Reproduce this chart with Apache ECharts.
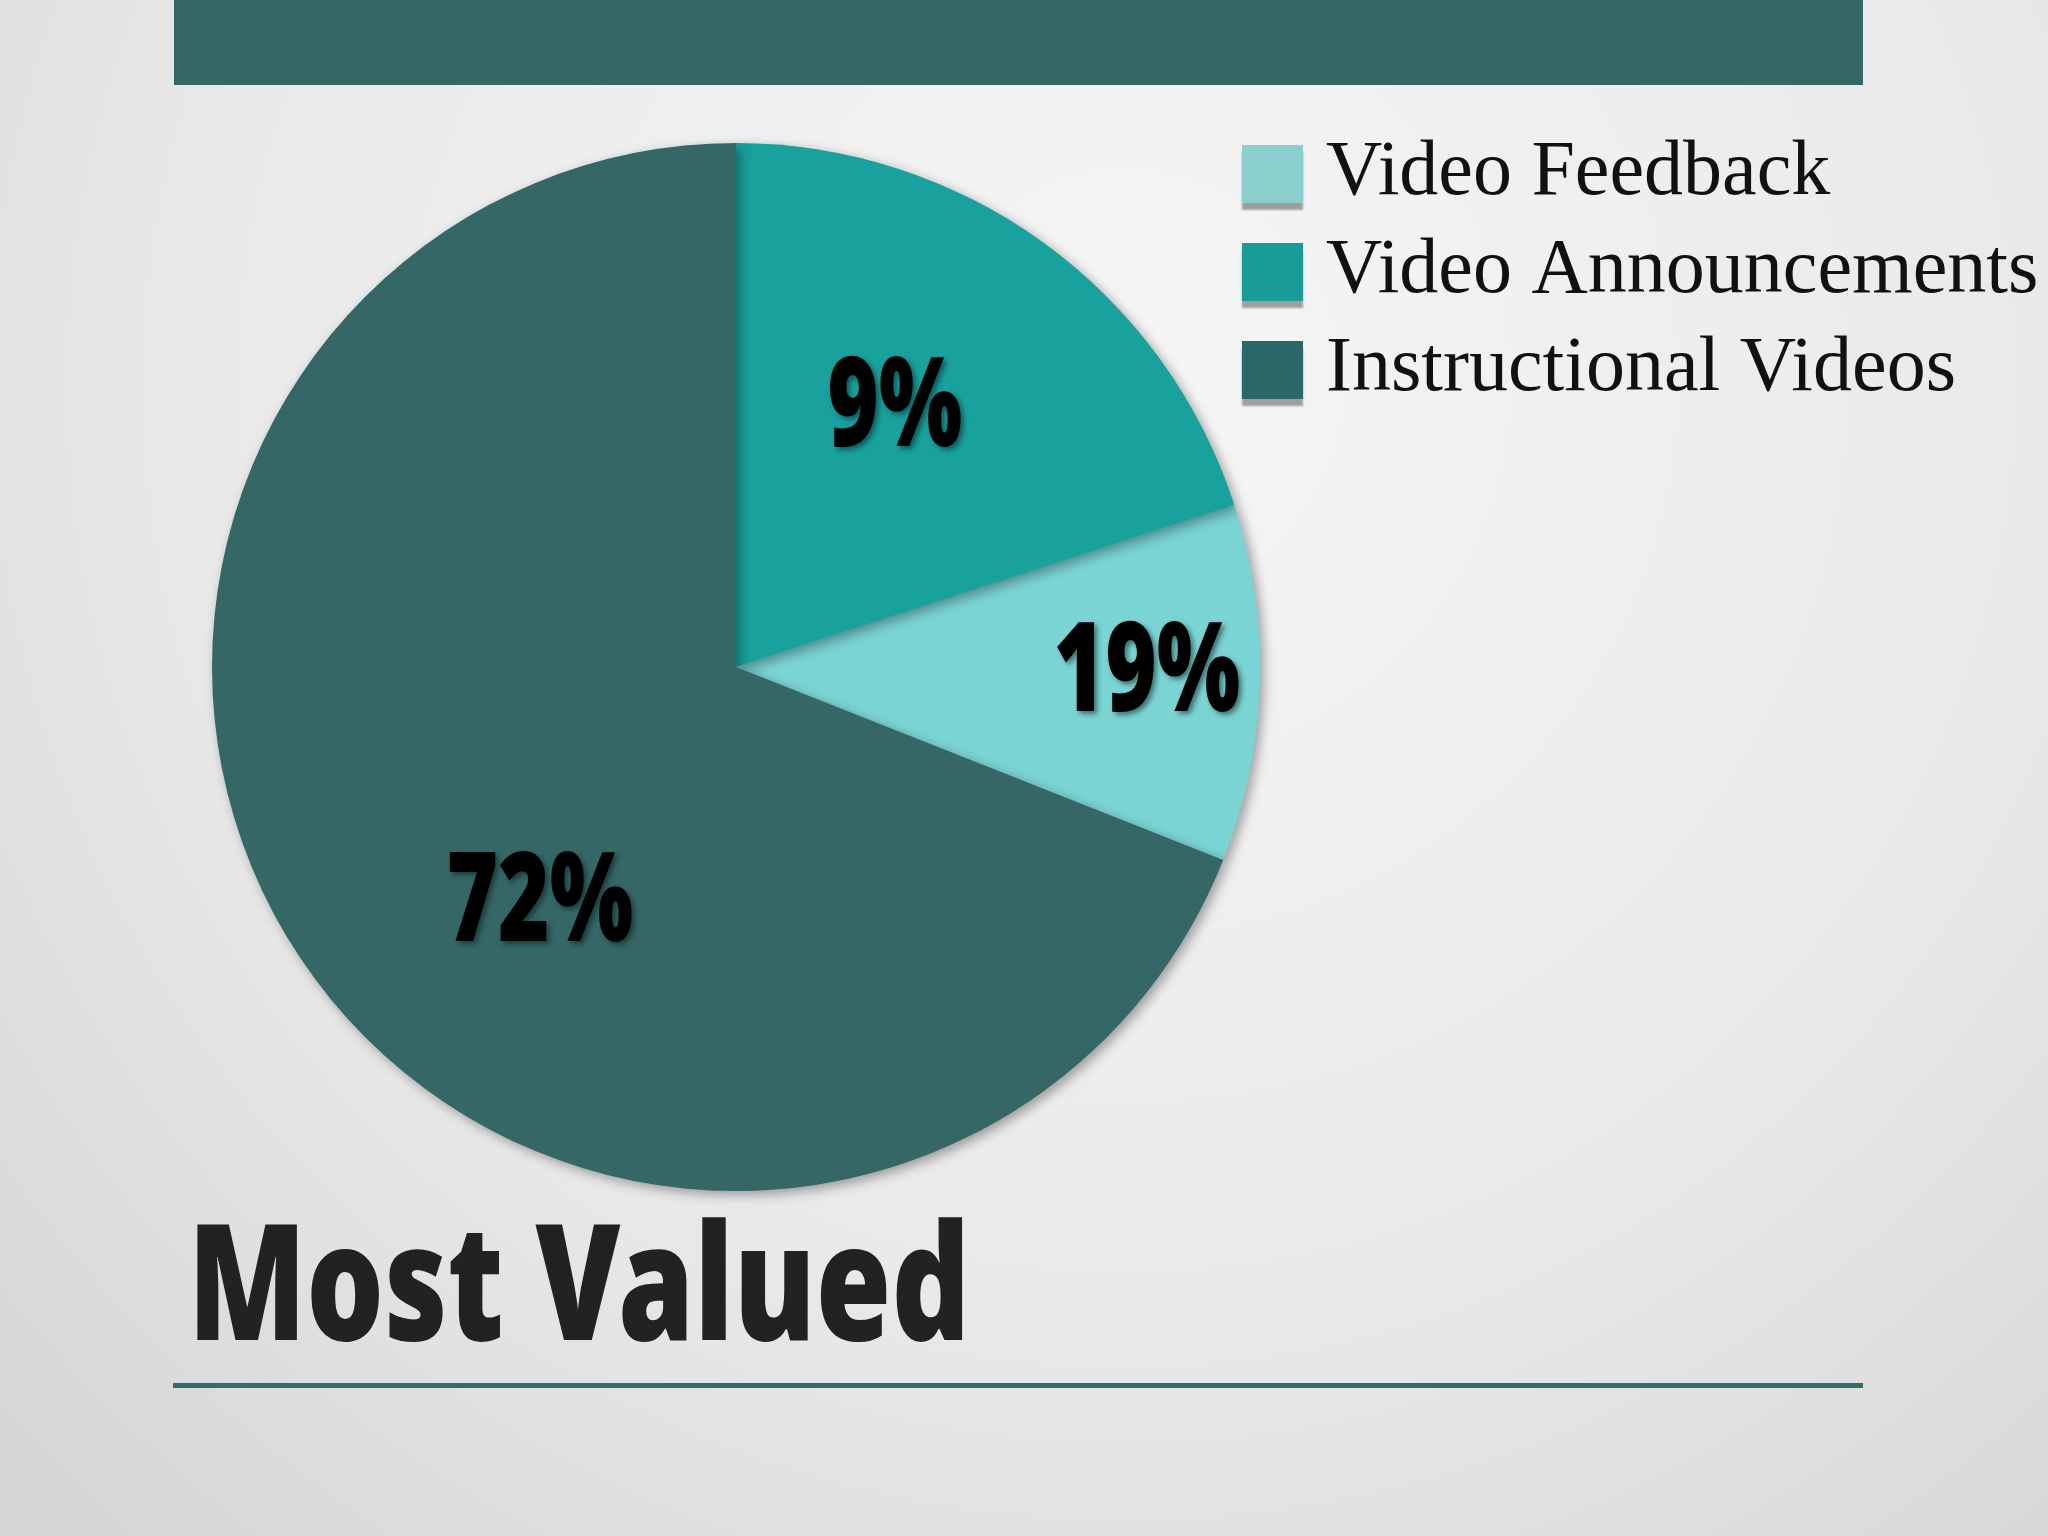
<!DOCTYPE html>
<html>
<head>
<meta charset="utf-8">
<script src="https://cdn.jsdelivr.net/npm/echarts@6/dist/echarts.min.js"></script>
<style>
  html, body { margin: 0; padding: 0; }
  #chart { width: 2048px; height: 1536px; }
</style>
</head>
<body>
<div id="chart"></div>
<script>
// slice shares as drawn, in legend order
var categories = ['Video Feedback', 'Video Announcements', 'Instructional Videos'];
var shares = [11, 20, 69];
// percentage text printed on each slice
var sliceLabels = ['19%', '9%', '72%'];
var title = 'Most Valued';

var colors = ['#7bd4d4', '#19a19d', '#356767'];
var legendColors = ['#8ccfcf', '#199c98', '#2b6868'];

// small nudges so the labels sit where the slide had them
var labelShift = [[146, 0], [3, -42], [23, 90]];

var chart = echarts.init(document.getElementById('chart'));

var pieData = categories.map(function(name, i) {
  return { name: name, value: shares[i], itemStyle: { color: colors[i] } };
});

chart.setOption({
  animation: false,
  backgroundColor: {
    type: 'radial', x: 0.55, y: 0.25, r: 1.0,
    colorStops: [
      { offset: 0, color: '#f6f6f6' },
      { offset: 0.6, color: '#e9e9e9' },
      { offset: 1, color: '#d6d6d6' }
    ]
  },
  legend: {
    orient: 'vertical',
    left: 1237,
    top: 130,
    itemWidth: 61,
    itemHeight: 58,
    itemGap: 20,
    selectedMode: false,
    icon: 'rect',
    data: categories.map(function(name, i) {
      return {
        name: name,
        itemStyle: {
          color: legendColors[i],
          shadowColor: 'rgba(0,0,0,0.35)',
          shadowBlur: 2,
          shadowOffsetY: 7
        }
      };
    }),
    textStyle: {
      fontFamily: "'Liberation Serif', 'Times New Roman', serif",
      fontSize: 78,
      color: '#111',
      padding: [0, 0, 0, 18]
    }
  },
  graphic: [
    { type: 'rect', shape: { x: 174, y: 0, width: 1689, height: 85 }, style: { fill: '#356767' } },
    { type: 'rect', shape: { x: 173, y: 1383, width: 1690, height: 5 }, style: { fill: '#356b6b' } },
    {
      type: 'text', x: 188, y: 1294, scaleX: 0.76,
      style: {
        text: title,
        font: "900 161px 'Noto Sans'",
        fill: '#222',
        verticalAlign: 'middle',
        textVerticalAlign: 'middle',
        shadowColor: 'rgba(0,0,0,0.25)',
        shadowBlur: 3,
        shadowOffsetX: 2,
        shadowOffsetY: 2
      }
    }
  ],
  series: [
    {
      type: 'pie',
      center: [736, 667],
      radius: [0, 524],
      startAngle: 338.4,
      clockwise: false,
      avoidLabelOverlap: false,
      silent: true,
      data: pieData,
      itemStyle: {
        shadowColor: 'rgba(0,0,0,0.35)',
        shadowBlur: 12,
        shadowOffsetX: 4,
        shadowOffsetY: 4
      },
      label: {
        show: true,
        position: 'inside',
        formatter: function(p) { return sliceLabels[p.dataIndex]; },
        fontFamily: 'Noto Sans',
        fontWeight: 900,
        fontSize: 124,
        color: '#000',
        textBorderWidth: 0,
        textShadowColor: 'rgba(0,20,20,0.5)',
        textShadowBlur: 5,
        textShadowOffsetX: 3,
        textShadowOffsetY: 3
      },
      labelLine: { show: false },
      labelLayout: function(p) {
        var s = labelShift[p.dataIndex];
        return { dx: s[0], dy: s[1] };
      }
    }
  ]
});

// the slide used a condensed display face; squeeze the slice labels
var zr = chart.getZr();
zr.storage.getDisplayList(true).forEach(function(el) {
  if (el.style && sliceLabels.indexOf(el.style.text) >= 0) {
    el.scaleX = 0.71;
    el.markRedraw();
  }
});
zr.refreshImmediately();

window.addEventListener('resize', function() { chart.resize(); });
</script>
</body>
</html>
